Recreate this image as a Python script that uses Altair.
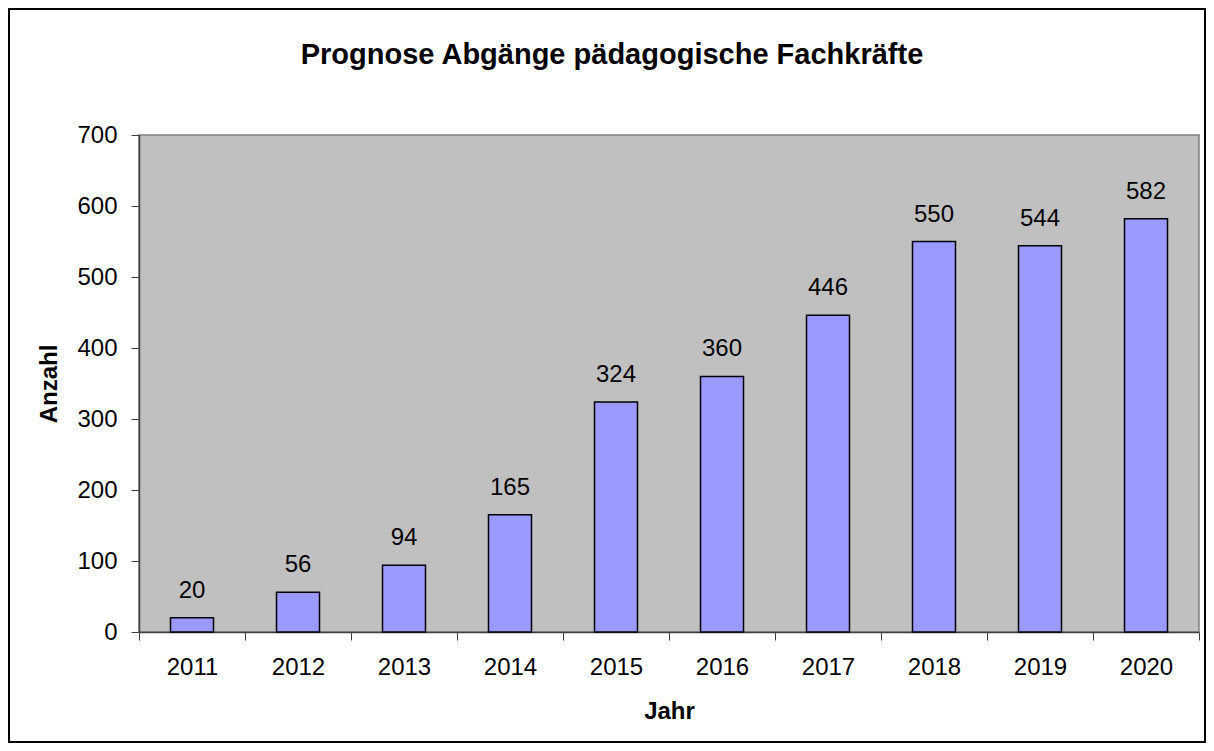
import altair as alt
import pandas as pd

years = [2011, 2012, 2013, 2014, 2015, 2016, 2017, 2018, 2019, 2020]
values = [20, 56, 94, 165, 324, 360, 446, 550, 544, 582]
y_ticks = [0, 100, 200, 300, 400, 500, 600, 700]
x_bounds = [2010.5, 2011.5, 2012.5, 2013.5, 2014.5, 2015.5, 2016.5, 2017.5, 2018.5, 2019.5, 2020.5]

df = pd.DataFrame({"Jahr": years, "Anzahl": values})

W, H = 1060, 497
FONT = "Liberation Sans"

x = alt.X(
    "Jahr:Q",
    scale=alt.Scale(domain=[2010.5, 2020.5], nice=False, zero=False, padding=0),
    axis=alt.Axis(
        title="Jahr",
        values=x_bounds,
        labelExpr="datum.value < 2011 ? '' : format(floor(datum.value), 'd')",
        labelOffset=-W / 20,
        labelOverlap=False,
        labelFlush=False,
        labelBound=False,
        labelFontSize=24,
        labelFont=FONT,
        labelColor="black",
        labelPadding=15,
        tickSize=8,
        tickColor="#404040",
        domainColor="#404040",
        domainWidth=1.5,
        grid=False,
        titleFont=FONT,
        titleFontSize=24,
        titleFontWeight="bold",
        titleColor="black",
        titlePadding=20,
    ),
)
y = alt.Y(
    "Anzahl:Q",
    scale=alt.Scale(domain=[0, 700], nice=False, padding=0),
    axis=alt.Axis(
        title="Anzahl",
        values=y_ticks,
        labelFontSize=24,
        labelFont=FONT,
        labelColor="black",
        labelPadding=14,
        tickSize=8,
        tickColor="#404040",
        domainColor="#404040",
        domainWidth=1.5,
        grid=False,
        titleFont=FONT,
        titleFontSize=24,
        titleFontWeight="bold",
        titleColor="black",
        titlePadding=15,
    ),
)

bars = alt.Chart(df).mark_bar(
    width=43, fill="#9999FF", stroke="black", strokeWidth=1.5
).encode(x=x, y=y)

labels = alt.Chart(df).mark_text(
    baseline="alphabetic", dy=-20, fontSize=24, font=FONT, color="black"
).encode(x="Jahr:Q", y="Anzahl:Q", text="Anzahl:Q")

frame = alt.Chart(pd.DataFrame({"f": [0]})).mark_rect(
    filled=False, stroke="black", strokeWidth=2
).encode(
    x=alt.value(-130), x2=alt.value(1066), y=alt.value(-126), y2=alt.value(607)
)

chart = (
    alt.layer(bars, labels, frame)
    .properties(
        width=W,
        height=H,
        background="white",
        autosize=alt.AutoSizeParams(type="none"),
        padding={"left": 131, "top": 127, "right": 7, "bottom": 111},
        title=alt.TitleParams(
            "Prognose Abgänge pädagogische Fachkräfte",
            font=FONT,
            fontSize=29,
            fontWeight="bold",
            color="black",
            anchor="middle",
            frame="group",
            dx=-57,
            baseline="alphabetic",
            offset=-85,
        ),
    )
    .configure_view(fill="#C0C0C0", stroke="#808080", strokeWidth=1.5)
)

chart.save("out.html", embed_options={"renderer": "svg", "actions": False})
